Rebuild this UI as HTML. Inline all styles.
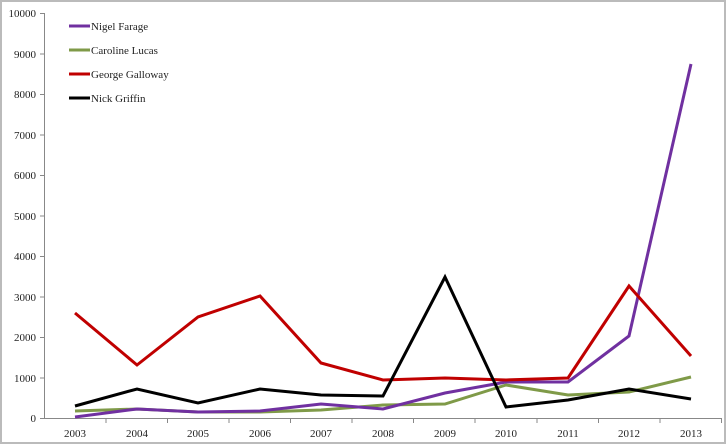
<!DOCTYPE html><html><head><style>body{margin:0;background:#fff}svg{display:block}text{font-family:"Liberation Serif",serif;font-size:11px;fill:#222}</style></head><body>
<svg width="726" height="444" xmlns="http://www.w3.org/2000/svg">
<rect x="1" y="1" width="724" height="442" fill="#fff" stroke="#bbb" stroke-width="2"/>
<g stroke="#888" stroke-width="1" fill="none">
<path d="M44.5 13V418.5H722"/>
<path d="M40 13.5h4.5M40 54h4.5M40 94.5h4.5M40 135h4.5M40 175.5h4.5M40 216h4.5M40 256.5h4.5M40 297h4.5M40 337.5h4.5M40 378h4.5M40 418.5h4.5"/>
<path d="M106 418v5M167.5 418v5M229 418v5M290.5 418v5M352 418v5M413.5 418v5M475 418v5M537 418v5M598.5 418v5M660 418v5M721.5 418v5"/>
</g>
<g text-anchor="end">
<text x="36" y="17">10000</text><text x="36" y="58">9000</text><text x="36" y="98">8000</text><text x="36" y="139">7000</text><text x="36" y="179">6000</text><text x="36" y="220">5000</text><text x="36" y="260">4000</text><text x="36" y="301">3000</text><text x="36" y="341">2000</text><text x="36" y="382">1000</text><text x="36" y="422">0</text>
</g>
<g text-anchor="middle">
<text x="75" y="437">2003</text><text x="137" y="437">2004</text><text x="198" y="437">2005</text><text x="260" y="437">2006</text><text x="321" y="437">2007</text><text x="383" y="437">2008</text><text x="445" y="437">2009</text><text x="506" y="437">2010</text><text x="568" y="437">2011</text><text x="629" y="437">2012</text><text x="691" y="437">2013</text>
</g>
<g fill="none" stroke-width="3" stroke-linejoin="miter">
<polyline stroke="#7f9a48" points="75,411 137,409 198,412 260,412 321,410 383,405 445,404 506,385 568,395 629,392 691,377"/>
<polyline stroke="#7030a0" points="75,417 137,409 198,412 260,411 321,404 383,409 445,393 506,382 568,382 629,336 691,64"/>
<polyline stroke="#c00000" points="75,313 137,365 198,317 260,296 321,363 383,380 445,378 506,380 568,378 629,286 691,356"/>
<polyline stroke="#000" points="75,406 137,389 198,403 260,389 321,395 383,396 445,277 506,407 568,400 629,389 691,399"/>
</g>
<g stroke-width="3">
<line x1="69" y1="26" x2="90" y2="26" stroke="#7030a0"/>
<line x1="69" y1="50" x2="90" y2="50" stroke="#7f9a48"/>
<line x1="69" y1="74" x2="90" y2="74" stroke="#c00000"/>
<line x1="69" y1="98" x2="90" y2="98" stroke="#000"/>
</g>
<text x="91" y="30">Nigel Farage</text>
<text x="91" y="54">Caroline Lucas</text>
<text x="91" y="78">George Galloway</text>
<text x="91" y="102">Nick Griffin</text>
</svg></body></html>
